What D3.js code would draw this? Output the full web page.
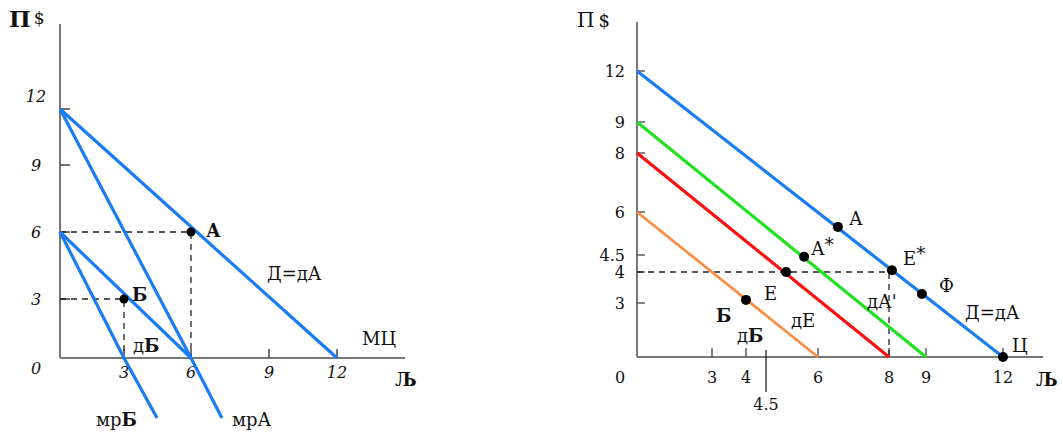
<!DOCTYPE html>
<html><head><meta charset="utf-8">
<script src="https://cdn.jsdelivr.net/npm/d3@7"></script>
<style>
html,body{margin:0;padding:0;background:#fff;}
text{font-family:"DejaVu Serif","Liberation Serif",serif;fill:#111;}
</style></head>
<body><svg id="c" width="1063" height="432"></svg>
<script>
// ---------- DATA ----------
// Left panel
const leftTicks = [0, 3, 6, 9, 12];
const leftDemand = [[0, 12], [12, 0]];          // Д=дА
const leftMrA = [[0, 12], [6, 0], [7.19, -3.05]]; // мрА
const leftDB = [[0, 6], [6, 0]];                 // дБ
const leftMrB = [[0, 6], [3, 0], [4.48, -3.05]]; // мрБ
const leftPoints = [{name: "А", x: 6, y: 6}, {name: "Б", x: 3, y: 3}];

// Right panel
const rightYTicks = [0, 3, 4, 4.5, 6, 8, 9, 12];
const rightXTicks = [0, 3, 4, 4.5, 6, 8, 9, 12];
const rightBlue = [[0, 12], [12, 0]];   // Д=дА
const rightGreen = [[0, 9], [9, 0]];    // дА'
const rightRed = [[0, 8], [8, 0]];      // дЕ
const rightOrange = [[0, 6], [6, 0]];   // дБ
const rightPoints = [
  {name: "А", x: 6.56, y: 5.48},
  {name: "А*", x: 5.6, y: 4.45},
  {name: "Е", x: 5.08, y: 4.0},
  {name: "Б", x: 4.0, y: 3.1},
  {name: "Е*", x: 8.08, y: 4.05},
  {name: "Ф", x: 8.89, y: 3.29},
  {name: "Ц", x: 12, y: 0}
];

// ---------- DRAW ----------
const svg = d3.select("#c");
svg.append("rect").attr("width", 1063).attr("height", 432).attr("fill", "#fff");
const AX = "#777";
const BLUE = "#1a7cf5";
const TICKF = 16, LABF = 18;

// Left scales (hand-drawn, non-uniform spacing)
const lx = d3.scaleLinear().domain([0, 3, 6, 9, 12]).range([60, 124, 191, 269, 337]);
const ly = d3.scaleLinear().domain([0, 3, 6, 9, 12]).range([358, 299, 232, 165, 109]);
const L = svg.append("g");
const lineL = d3.line().x(d => lx(d[0])).y(d => ly(d[1]));

L.append("line").attr("x1", lx(0)).attr("x2", lx(0)).attr("y1", 24).attr("y2", ly(0)).attr("stroke", AX).attr("stroke-width", 2);
L.append("line").attr("x1", lx(0)).attr("x2", 405).attr("y1", ly(0)).attr("y2", ly(0)).attr("stroke", AX).attr("stroke-width", 2);
leftTicks.filter(v => v > 0).forEach(v => {
  L.append("line").attr("x1", lx(0)).attr("x2", lx(0) + 10).attr("y1", ly(v)).attr("y2", ly(v)).attr("stroke", "#444").attr("stroke-width", 1.5);
  L.append("line").attr("x1", lx(v)).attr("x2", lx(v)).attr("y1", ly(0)).attr("y2", ly(0) - 9).attr("stroke", "#444").attr("stroke-width", 1.5);
});
leftTicks.forEach(v => {
  L.append("text").attr("x", 36).attr("y", (v === 12 ? ly(v) - 13 : v === 0 ? ly(0) + 10 : ly(v)))
    .attr("text-anchor", "middle").attr("dominant-baseline", "central")
    .attr("font-style", "italic").attr("font-size", TICKF).text(v);
  if (v > 0) L.append("text").attr("x", lx(v)).attr("y", ly(0) + 14)
    .attr("text-anchor", "middle").attr("dominant-baseline", "central")
    .attr("font-style", "italic").attr("font-size", TICKF).text(v);
});

const dash = "6,5";
leftPoints.forEach(p => {
  L.append("path").attr("d", lineL([[0, p.y], [p.x, p.y], [p.x, 0]])).attr("fill", "none")
    .attr("stroke", "#222").attr("stroke-width", 1.3).attr("stroke-dasharray", dash);
});
[leftDemand, leftMrA, leftDB, leftMrB].forEach(d => {
  L.append("path").attr("d", lineL(d)).attr("fill", "none").attr("stroke", BLUE).attr("stroke-width", 3.2);
});
leftPoints.forEach(p => {
  L.append("circle").attr("cx", lx(p.x)).attr("cy", ly(p.y)).attr("r", 4.5).attr("fill", "#000");
});
function lbl(g, x, y, t, opts = {}) {
  return g.append("text").attr("x", x).attr("y", y).attr("dominant-baseline", "central")
    .attr("text-anchor", opts.anchor || "start").attr("font-size", opts.size || LABF)
    .attr("font-weight", opts.bold ? "bold" : "normal").text(t);
}
const pt1 = L.append("text").attr("x", 9).attr("y", 18).attr("dominant-baseline", "central").attr("font-size", LABF);
pt1.append("tspan").attr("font-weight", "bold").attr("font-size", 23).text("П");
pt1.append("tspan").attr("dx", 3).attr("font-size", 17).text("$");
lbl(L, lx(6) + 15, ly(6) - 2, "А", {bold: true});
lbl(L, lx(3) + 8, ly(3) - 5, "Б", {bold: true});
lbl(L, 267, 273, "Д=дА");
lbl(L, 362, 338, "МЦ");
lbl(L, 395, 379, "Љ", {bold: true});
const db1 = L.append("text").attr("x", 133).attr("y", 345).attr("dominant-baseline", "central").attr("font-size", LABF);
db1.append("tspan").text("д"); db1.append("tspan").attr("font-weight", "bold").text("Б");
const mb1 = L.append("text").attr("x", 96).attr("y", 419).attr("dominant-baseline", "central").attr("font-size", LABF);
mb1.append("tspan").text("мр"); mb1.append("tspan").attr("font-weight", "bold").text("Б");
lbl(L, 232, 419, "мрА");

// Right scales (hand-drawn, non-uniform spacing)
const rx = d3.scaleLinear().domain([0, 3, 4, 4.5, 6, 8, 9, 12]).range([637, 712, 746, 766, 818, 889, 926, 1003]);
const ry = d3.scaleLinear().domain([0, 3, 4, 4.5, 6, 8, 9, 12]).range([357, 303, 272, 255, 212, 153, 122, 71]);
const R = svg.append("g");
const lineR = d3.line().x(d => rx(d[0])).y(d => ry(d[1]));

R.append("line").attr("x1", rx(0)).attr("x2", rx(0)).attr("y1", 22).attr("y2", ry(0)).attr("stroke", AX).attr("stroke-width", 2);
R.append("line").attr("x1", rx(0)).attr("x2", 1043).attr("y1", ry(0)).attr("y2", ry(0)).attr("stroke", AX).attr("stroke-width", 2);
rightYTicks.filter(v => v > 0).forEach(v => {
  R.append("line").attr("x1", rx(0)).attr("x2", rx(0) + 8).attr("y1", ry(v)).attr("y2", ry(v)).attr("stroke", "#444").attr("stroke-width", 1.3);
  R.append("text").attr("x", 625).attr("y", ry(v)).attr("text-anchor", "end").attr("dominant-baseline", "central")
    .attr("font-size", TICKF).text(v);
});
R.append("text").attr("x", 620).attr("y", 377).attr("text-anchor", "middle").attr("dominant-baseline", "central").attr("font-size", TICKF).text(0);
rightXTicks.filter(v => v > 0 && v !== 4.5).forEach(v => {
  R.append("line").attr("x1", rx(v)).attr("x2", rx(v)).attr("y1", ry(0)).attr("y2", ry(0) - 9).attr("stroke", "#444").attr("stroke-width", 1.3);
  R.append("text").attr("x", rx(v)).attr("y", 377).attr("text-anchor", "middle").attr("dominant-baseline", "central")
    .attr("font-size", TICKF).text(v);
});
R.append("line").attr("x1", rx(4.5)).attr("x2", rx(4.5)).attr("y1", ry(0) - 7).attr("y2", 392).attr("stroke", "#222").attr("stroke-width", 1.3);
R.append("text").attr("x", rx(4.5)).attr("y", 404).attr("text-anchor", "middle").attr("dominant-baseline", "central").attr("font-size", TICKF).text("4.5");

R.append("path").attr("d", lineR([[0, 4], [8, 4], [8, 0]])).attr("fill", "none")
  .attr("stroke", "#222").attr("stroke-width", 1.3).attr("stroke-dasharray", dash);

[[rightOrange, "#ff8a3d", 2.6], [rightRed, "#ff1010", 3.2], [rightGreen, "#22e022", 3.2], [rightBlue, BLUE, 3.2]].forEach(([d, c, w]) => {
  R.append("path").attr("d", lineR(d)).attr("fill", "none").attr("stroke", c).attr("stroke-width", w);
});
rightPoints.forEach(p => {
  R.append("circle").attr("cx", rx(p.x)).attr("cy", ry(p.y)).attr("r", 5).attr("fill", "#000");
});
const pt2 = R.append("text").attr("x", 577).attr("y", 20).attr("dominant-baseline", "central").attr("font-size", LABF);
pt2.append("tspan").attr("font-size", 20).text("П");
pt2.append("tspan").attr("dx", 4).attr("font-size", 18).text("$");
lbl(R, 849, 218, "А");
const as = R.append("text").attr("x", 811).attr("y", 248).attr("dominant-baseline", "central").attr("font-size", LABF);
as.append("tspan").text("А"); as.append("tspan").attr("dy", -4).text("*");
lbl(R, 764, 293, "Е");
lbl(R, 716, 315, "Б", {bold: true});
lbl(R, 791, 320, "дЕ");
const db2 = R.append("text").attr("x", 737).attr("y", 335).attr("dominant-baseline", "central").attr("font-size", LABF);
db2.append("tspan").text("д"); db2.append("tspan").attr("font-weight", "bold").text("Б");
const es = R.append("text").attr("x", 903).attr("y", 258).attr("dominant-baseline", "central").attr("font-size", LABF);
es.append("tspan").text("Е"); es.append("tspan").attr("dy", -5).text("*");
lbl(R, 939, 285, "Ф");
lbl(R, 867, 301, "дА'");
lbl(R, 965, 312, "Д=дА");
lbl(R, 1012, 345, "Ц");
lbl(R, 1036, 379, "Љ", {bold: true});
</script></body></html>
